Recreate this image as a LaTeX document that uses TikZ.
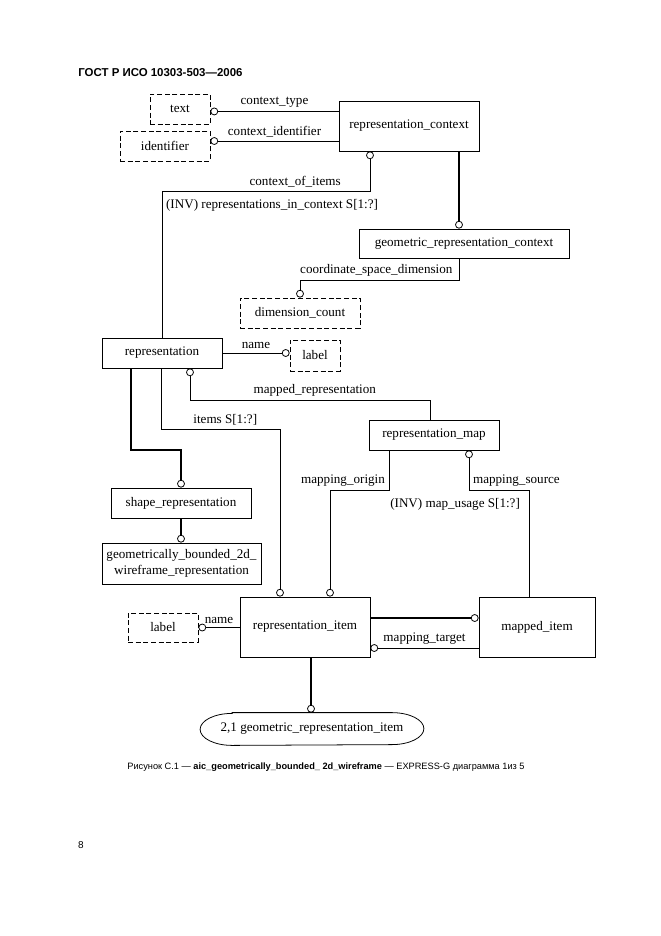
\documentclass[tikz,border=0pt]{standalone}
\usepackage{fontspec}
\setmainfont{Liberation Serif}
\newfontfamily\capfont{Liberation Sans}
\usetikzlibrary{arrows.meta}
\newdimen\pxu \pxu=0.9pt

\begin{document}
\begin{tikzpicture}[x=0.9pt, y=-0.9pt, line width=0.7pt,
    >={Circle[open, length=7pt, width=7pt, line width=0.7pt]},
    every node/.style={font=\fontsize{11.8}{14}\selectfont},
    ent/.style={draw, minimum height=30*\pxu, inner sep=0pt, align=center},
    typ/.style={ent, dash pattern=on 4.5pt off 2.4pt},
    sub/.style={line width=1.9pt}]
    \useasboundingbox (0,0) rectangle (661,936);

    \node(title)[anchor=west, inner sep=0, font=\capfont\bfseries\fontsize{10.3}{12}\selectfont] at (78,73)
        {ГОСТ Р ИСО 10303-503—2006};

    \node(text)[typ, minimum width=60*\pxu] at (180,109) {text};
    \node(identifier)[typ, minimum width=90*\pxu] at (165,146) {identifier};
    \node(repctx)[ent, minimum width=140*\pxu, minimum height=50*\pxu] at (409,126)
        {representation\_context};
    \node(geomctx)[ent, minimum width=210*\pxu, minimum height=29*\pxu] at (464,243.5)
        {geometric\_representation\_context};
    \node(dimcount)[typ, minimum width=120*\pxu] at (300,313) {dimension\_count};
    \node(representation)[ent, minimum width=120*\pxu] at (162,353) {representation};
    \node(rep-label)[typ, minimum width=50*\pxu, minimum height=31*\pxu] at (315,355.5) {label};
    \node(repmap)[ent, minimum width=130*\pxu] at (434,435) {representation\_map};
    \node(shaperep)[ent, minimum width=140*\pxu] at (181,503) {shape\_representation};
    \node(gbw)[ent, minimum width=159*\pxu, minimum height=41*\pxu] at (181.5,563.5)
        {geometrically\_bounded\_2d\_\\wireframe\_representation};
    \node(repitem)[ent, minimum width=130*\pxu, minimum height=60*\pxu] at (305,627)
        {representation\_item};
    \node(mapped)[ent, minimum width=116*\pxu, minimum height=60*\pxu] at (537,627) {mapped\_item};
    \node(item-label)[typ, minimum width=70*\pxu, minimum height=29*\pxu] at (163,627.5) {label};
    \node(geomitem)[inner sep=0pt, minimum width=223*\pxu, minimum height=32*\pxu] at (312,729)
        {2,1 geometric\_representation\_item};
    \draw ([xshift=32*\pxu]geomitem.north west) -- ([xshift=-32*\pxu]geomitem.north east)
        arc[start angle=90, end angle=-90, x radius=28.8pt, y radius=14.4pt]
        -- ([xshift=32*\pxu]geomitem.south west)
        arc[start angle=270, end angle=90, x radius=28.8pt, y radius=14.4pt] -- cycle;

    \coordinate(ct) at ([yshift=-2.2pt]text.east);
    \draw[<-] (ct) -- node[above]{context\_type} (ct -| repctx.west);
    \coordinate(ci) at ([yshift=4.5pt]identifier.east);
    \draw[<-] (ci) -- node[above]{context\_identifier} (ci -| repctx.west);
    \draw[<-] ([xshift=-39*\pxu]repctx.south) -- ++(0,40)
        -| node[above, pos=.18]{context\_of\_items}
           node[below right, pos=.5, yshift=-4*\pxu]{(INV) representations\_in\_context S[1:?]}
        (representation.north);
    \coordinate(rc) at ([xshift=50*\pxu]repctx.south);
    \draw[sub, ->] (rc) -- (rc |- geomctx.north);
    \draw[->] ([xshift=-5*\pxu]geomctx.south) -- ++(0,22)
        -| node[above, pos=.26]{coordinate\_space\_dimension} (dimcount.north);

    \draw[->] (representation.east) -- node[above]{name} (representation.east -| rep-label.west);
    \draw[<-] ([xshift=28*\pxu]representation.south) -- ++(0,32)
        -| node[above, pos=.26]{mapped\_representation} ([xshift=-4*\pxu]repmap.north);
    \draw[->] ([xshift=-1*\pxu]representation.south) -- ++(0,61)
        -| node[above, pos=.27]{items S[1:?]} ([xshift=-25*\pxu]repitem.north);
    \draw[sub, ->] ([xshift=-31*\pxu]representation.south) -- ++(0,82) -| (shaperep.north);
    \draw[sub, ->] (shaperep.south) -- (shaperep.south |- gbw.north);

    \draw[->] ([xshift=-45*\pxu]repmap.south) -- ++(0,40) node[above left]{mapping\_origin}
        -| ([xshift=25*\pxu]repitem.north);
    \draw[<-] ([xshift=35*\pxu]repmap.south) -- ++(0,40) node[above right]{mapping\_source}
        -| node[below left, pos=.5, xshift=-5*\pxu, yshift=-4*\pxu]{(INV) map\_usage S[1:?]}
        ([xshift=-8*\pxu]mapped.north);

    \coordinate(ri) at ([yshift=9*\pxu]repitem.east);
    \draw[sub, ->] (ri) -- (ri -| mapped.west);
    \coordinate(mt) at ([yshift=-21*\pxu]repitem.east);
    \draw[<-] (mt) -- node[above]{mapping\_target} (mt -| mapped.west);
    \draw[<-] (item-label.east) -- node[above]{name} (item-label.east -| repitem.west);
    \coordinate(gi) at ([xshift=6*\pxu]repitem.south);
    \draw[sub, ->] (gi) -- (gi |- geomitem.north);

    \node(caption)[inner sep=0, font=\capfont\fontsize{8.3}{10}\selectfont] at (326,767)
        {Рисунок С.1 — \textbf{aic\_geometrically\_bounded\_ 2d\_wireframe} — EXPRESS-G диаграмма 1из 5};
    \node(page)[inner sep=0, font=\capfont\fontsize{9}{10}\selectfont] at (81,845) {8};
\end{tikzpicture}
\end{document}
